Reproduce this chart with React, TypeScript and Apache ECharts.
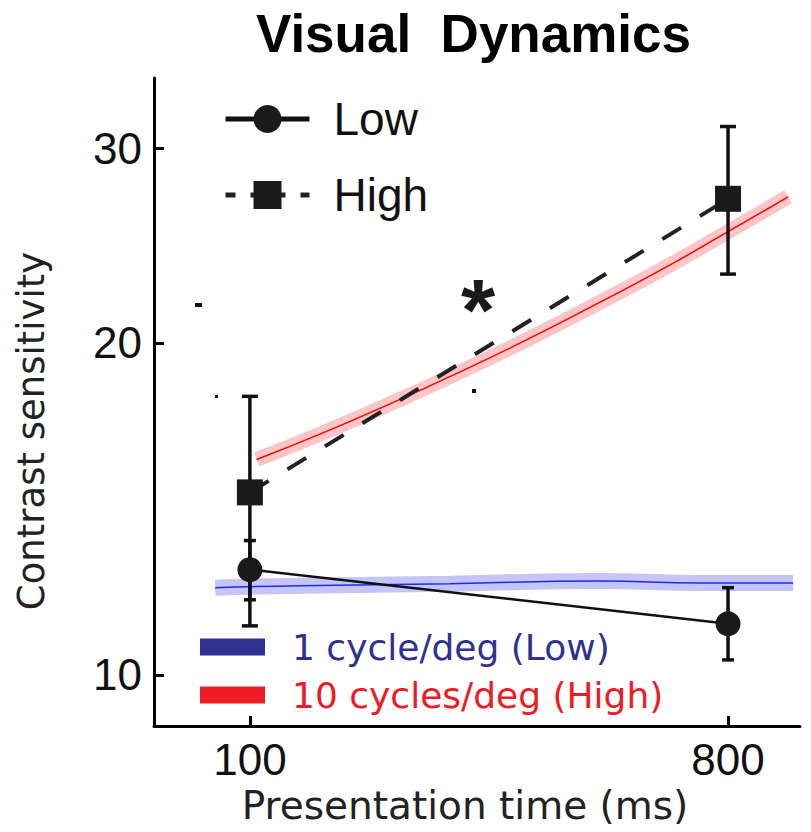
import React, { useEffect, useRef } from "react";
import * as echarts from "echarts";

// Presentation times (ms) of the measured conditions
const TIMES = [100, 800];
// Low spatial frequency (circles, solid line)
const LOW_MEAN = [12.46, 11.13];
const LOW_LO = [11.7, 10.32];
const LOW_HI = [13.24, 12.0];
// High spatial frequency (squares, dashed line)
const HIGH_MEAN = [14.64, 27.02];
const HIGH_LO = [11.08, 23.09];
const HIGH_HI = [17.89, 31.42];

// Model curves
const RED_T = [103, 136, 184, 249, 338, 458, 622, 797, 1039];
const RED_V = [15.68, 16.54, 17.61, 18.82, 20.2, 21.77, 23.54, 25.2, 27.13];
const BLUE_T = [86, 124, 239, 458, 709, 1062];
const BLUE_V = [12.0, 12.05, 12.1, 12.17, 12.12, 12.12];

const X_TICKS = [100, 800];
const Y_TICKS = [10, 20, 30];

const SANS = "Liberation Sans";
const WIDE = "DejaVu Sans";

function pairs(xs: number[], ys: number[]) {
  return xs.map((x, i) => [x, ys[i]]);
}

function errorSeries(lo: number[], hi: number[], capHalf: number, width: number, z: number) {
  return {
    type: "custom",
    z,
    data: TIMES.map((t, i) => [t, lo[i], hi[i]]),
    encode: { x: 0, y: [1, 2] },
    renderItem: (params: any, api: any) => {
      const x = api.value(0);
      const p1 = api.coord([x, api.value(1)]);
      const p2 = api.coord([x, api.value(2)]);
      const st = { stroke: "#111", lineWidth: width };
      return {
        type: "group",
        children: [
          { type: "line", shape: { x1: p1[0], y1: p1[1], x2: p2[0], y2: p2[1] }, style: st },
          { type: "line", shape: { x1: p1[0] - capHalf, y1: p1[1], x2: p1[0] + capHalf, y2: p1[1] }, style: st },
          { type: "line", shape: { x1: p2[0] - capHalf, y1: p2[1], x2: p2[0] + capHalf, y2: p2[1] }, style: st },
        ],
      };
    },
  };
}

export default function App() {
  const ref = useRef<HTMLDivElement>(null);
  useEffect(() => {
    if (!ref.current) return;
    const chart = echarts.init(ref.current, null, { renderer: "svg" });
    const option: any = {
      animation: false,
      backgroundColor: "#fff",
      title: {
        text: "Visual  Dynamics",
        left: 256,
        top: 7,
        padding: 0,
        textStyle: { fontFamily: SANS, fontWeight: "bold", fontSize: 53, color: "#000" },
      },
      grid: { left: 154, right: 11, top: 78, bottom: 106, outerBoundsMode: "none", containLabel: false },
      legend: [
        {
          data: [
            { name: "Low", lineStyle: { width: 5 } },
            { name: "High", lineStyle: { width: 5, type: [10, 15] } },
          ],
          orient: "vertical",
          left: 223,
          top: 96,
          padding: 0,
          itemWidth: 84,
          itemHeight: 35,
          itemGap: 30,
          selectedMode: false,
          textStyle: { fontFamily: SANS, fontSize: 46, color: "#111", padding: [0, 0, 0, 19] },
        },
        {
          data: [
            {
              name: "1 cycle/deg (Low)",
              icon: "rect",
              itemStyle: { color: "#2e3192", borderWidth: 0 },
              textStyle: { color: "#2e3192" },
            },
            {
              name: "10 cycles/deg (High)",
              icon: "rect",
              itemStyle: { color: "#ed1c24", borderWidth: 0 },
              textStyle: { color: "#ed1c24" },
            },
          ],
          orient: "vertical",
          left: 200,
          top: 629,
          padding: 0,
          itemWidth: 65,
          itemHeight: 17,
          itemGap: 12,
          selectedMode: false,
          textStyle: { fontFamily: WIDE, fontSize: 36, padding: [0, 0, 0, 22] },
        },
      ],
      xAxis: {
        type: "log",
        logBase: 10,
        min: 65.9,
        max: 1094,
        axisLine: { show: true, onZero: false, lineStyle: { color: "#000", width: 3 } },
        axisTick: { show: true, inside: true, length: 10, customValues: X_TICKS, lineStyle: { color: "#000", width: 3 } },
        minorTick: { show: false },
        splitLine: { show: false },
        axisLabel: {
          customValues: X_TICKS,
          formatter: (v: number) => String(Math.round(v)),
          fontFamily: SANS,
          fontSize: 44,
          color: "#111",
          margin: 11,
        },
        name: "Presentation time (ms)",
        nameLocation: "middle",
        nameGap: 59,
        nameTextStyle: { fontFamily: WIDE, fontSize: 39, color: "#222", padding: [0, 24, 0, 0] },
      },
      yAxis: {
        type: "log",
        logBase: 10,
        min: 8.99,
        max: 34.77,
        axisLine: { show: true, onZero: false, lineStyle: { color: "#000", width: 3 } },
        axisTick: { show: true, inside: true, length: 10, customValues: Y_TICKS, lineStyle: { color: "#000", width: 3 } },
        minorTick: { show: false },
        splitLine: { show: false },
        axisLabel: {
          customValues: Y_TICKS,
          formatter: (v: number) => String(Math.round(v)),
          fontFamily: SANS,
          fontSize: 44,
          color: "#111",
          margin: 12,
        },
        name: "Contrast sensitivity",
        nameLocation: "middle",
        nameGap: 104,
        nameTextStyle: { fontFamily: WIDE, fontSize: 37, color: "#222", padding: [0, 58, 0, 0] },
      },
      series: [
        {
          type: "line",
          name: "1 cycle/deg (Low)",
          data: pairs(BLUE_T, BLUE_V),
          symbol: "none",
          smooth: true,
          z: 1,
          lineStyle: { color: "#c4c5f8", width: 16, cap: "butt" },
          itemStyle: { color: "#2e3192" },
        },
        {
          type: "line",
          name: "1 cycle/deg (Low)",
          data: pairs(BLUE_T, BLUE_V),
          symbol: "none",
          smooth: true,
          z: 2,
          lineStyle: { color: "#2424ff", width: 1.5 },
          itemStyle: { color: "#2e3192" },
        },
        {
          type: "line",
          name: "10 cycles/deg (High)",
          data: pairs(RED_T, RED_V),
          symbol: "none",
          smooth: true,
          z: 1,
          lineStyle: { color: "#fcc6c6", width: 15, cap: "butt" },
          itemStyle: { color: "#ed1c24" },
        },
        {
          type: "line",
          name: "10 cycles/deg (High)",
          data: pairs(RED_T, RED_V),
          symbol: "none",
          smooth: true,
          z: 2,
          lineStyle: { color: "#ff0000", width: 1.5 },
          itemStyle: { color: "#ed1c24" },
        },
        errorSeries(HIGH_LO, HIGH_HI, 8, 3.5, 3),
        errorSeries(LOW_LO, LOW_HI, 6, 3.5, 3),
        {
          type: "line",
          name: "Low",
          data: pairs(TIMES, LOW_MEAN),
          symbol: "circle",
          symbolSize: 25,
          z: 4,
          lineStyle: { color: "#111", width: 2.5 },
          itemStyle: { color: "#1a1a1a", borderWidth: 0 },
        },
        {
          type: "line",
          name: "High",
          data: pairs(TIMES, HIGH_MEAN),
          symbol: "rect",
          symbolSize: 26,
          z: 4,
          lineStyle: { color: "#222", width: 4, type: [22, 22] },
          itemStyle: { color: "#1a1a1a", borderWidth: 0 },
        },
      ],
      graphic: [
        {
          type: "text",
          x: 478,
          y: 309,
          z: 10,
          style: {
            text: "*",
            align: "center",
            verticalAlign: "middle",
            font: `bold 88px "${SANS}"`,
            fill: "#1a1a1a",
          },
        },
        { type: "rect", shape: { x: 195, y: 303, width: 7, height: 4 }, style: { fill: "#111" } },
        { type: "rect", shape: { x: 215, y: 395, width: 3, height: 3 }, style: { fill: "#111" } },
        { type: "rect", shape: { x: 472, y: 389, width: 4, height: 4 }, style: { fill: "#111" } },
      ],
    };
    chart.setOption(option);
    return () => chart.dispose();
  }, []);
  return <div ref={ref} style={{ width: 811, height: 832, position: "absolute", left: 0, top: 0 }} />;
}
